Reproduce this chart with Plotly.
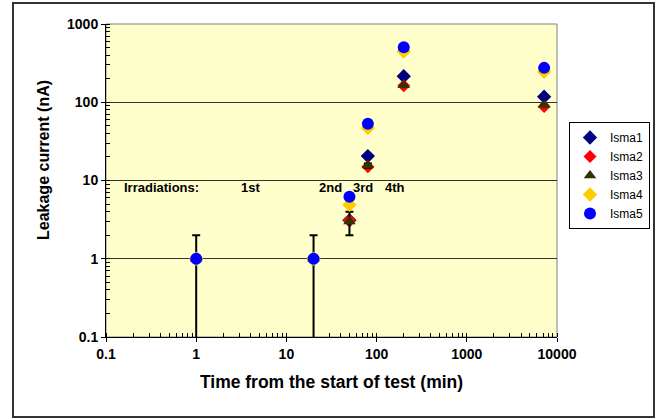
import plotly.graph_objects as go

# ---- data ----
time_min = [1, 20, 50, 80, 200, 7200]
isma1 = [1, 1, 3.1, 20.5, 215, 118]
isma2 = [1, 1, 3.1, 15, 163, 88]
isma3 = [1, 1, 3.0, 15.5, 165, 92]
isma4 = [1, 1, 4.9, 47, 445, 245]
isma5 = [1, 1, 6.2, 53, 505, 275]
isma3_err = [1, 1, 1, 1, 1, 1]

series_names = ["Isma1", "Isma2", "Isma3", "Isma4", "Isma5"]
x_tick_vals = [0.1, 1, 10, 100, 1000, 10000]
x_tick_text = ["0.1", "1", "10", "100", "1000", "10000"]
y_tick_vals = [0.1, 1, 10, 100, 1000]
y_tick_text = ["0.1", "1", "10", "100", "1000"]
irr_labels = ["Irradiations:", "1st", "2nd", "3rd", "4th"]

FONT = "Arial, Liberation Sans, sans-serif"

fig = go.Figure()
styles = [
    dict(symbol="diamond", color="#000080", size=11),
    dict(symbol="diamond", color="#FF0000", size=10),
    dict(symbol="triangle-up", color="#333300", size=11),
    dict(symbol="diamond", color="#FFCC00", size=11),
    dict(symbol="circle", color="#0000FF", size=12),
]
values = [isma1, isma2, isma3, isma4, isma5]
for i, (name, vals, st) in enumerate(zip(series_names, values, styles)):
    kw = {}
    if name == "Isma3":
        kw["error_y"] = dict(type="data", array=isma3_err, arrayminus=isma3_err,
                             color="black", thickness=2, width=4, visible=True)
    fig.add_trace(go.Scatter(
        x=time_min, y=vals, name=name, mode="markers",
        marker=dict(symbol=st["symbol"], color=st["color"], size=st["size"],
                    line=dict(width=0)),
        legendgroup=name, cliponaxis=False, **kw))

# plot-area pixel geometry: left 106, right 557, top 24, bottom 337
W, H = 665, 419
L, R, T, B = 106, 557, 24, 337
pw, ph = R - L, B - T

def px(x):
    return (x - L) / pw

def py(y):
    return (B - y) / ph

fig.update_layout(
    width=W, height=H,
    margin=dict(l=L, r=W - R, t=T, b=H - B, autoexpand=False),
    paper_bgcolor="white",
    plot_bgcolor="#FFFFCC",
    font=dict(family=FONT, color="black", size=12),
    showlegend=True,
    legend=dict(
        x=px(650), y=py(122), xanchor="right", yanchor="top",
        bordercolor="black", borderwidth=1, bgcolor="white",
        font=dict(family=FONT, size=12),
        tracegroupgap=5, traceorder="normal",
        itemwidth=30,
    ),
)

fig.update_xaxes(
    type="log", range=[-1, 4],
    tickvals=x_tick_vals, ticktext=x_tick_text,
    tickfont=dict(family=FONT, size=14, weight="bold"),
    showline=True, linecolor="black", linewidth=1,
    ticks="outside", ticklen=4, tickcolor="black",
    minor=dict(ticks="inside", ticklen=4, tickcolor="black", dtick="D1", showgrid=False),
    showgrid=False, zeroline=False,
    title=dict(text="<b>Time from the start of test (min)</b>",
               font=dict(family=FONT, size=17.5), standoff=14),
)
fig.update_yaxes(
    type="log", range=[-1, 3],
    tickvals=y_tick_vals, ticktext=y_tick_text,
    tickfont=dict(family=FONT, size=14, weight="bold"),
    showline=True, linecolor="black", linewidth=1,
    ticks="outside", ticklen=4, tickcolor="black",
    minor=dict(ticks="inside", ticklen=4, tickcolor="black", dtick="D1", showgrid=False),
    showgrid=True, gridcolor="#333333", gridwidth=1, zeroline=False,
)

# plot-area frame (gray) and outer chart frame
fig.add_shape(type="rect", xref="paper", yref="paper", x0=0, x1=1, y0=0, y1=1,
              line=dict(color="#808080", width=1), layer="below")
fig.add_shape(type="rect", xref="paper", yref="paper",
              x0=px(13), x1=px(654), y0=py(417), y1=py(3),
              line=dict(color="#333333", width=2))

# y title
fig.add_annotation(text="<b>Leakage current (nA)</b>", xref="paper", yref="paper",
                   x=px(43), y=py(160), textangle=-90, showarrow=False,
                   font=dict(family=FONT, size=16), xanchor="center", yanchor="middle")

# irradiation labels
irr_x = [122, 250, 330, 362.5, 394.5]
for k, (lab, xp) in enumerate(zip(irr_labels, irr_x)):
    fig.add_annotation(text="<b>" + lab + "</b>", xref="paper", yref="paper",
                       x=px(xp), y=py(187), showarrow=False,
                       xanchor="left" if k == 0 else "center", yanchor="middle",
                       font=dict(family=FONT, size=13))

fig.write_html("out.html", config={"displayModeBar": False},
               post_script="document.body.style.margin='0';document.body.style.overflow='hidden';")
